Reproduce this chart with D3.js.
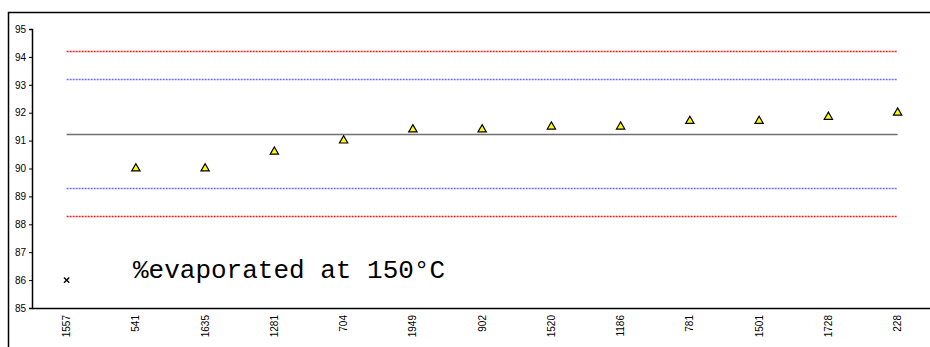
<!DOCTYPE html>
<html>
<head>
<meta charset="utf-8">
<script src="https://cdn.jsdelivr.net/npm/d3@7/dist/d3.min.js"></script>
<style>
  html, body { margin: 0; padding: 0; background: #fff; }
  svg { display: block; }
</style>
</head>
<body>
<svg id="chart" width="930" height="347"></svg>
<script>
// Sample identifiers along the x axis
const samples = ["1557", "541", "1635", "1281", "704", "1949", "902", "1520", "1186", "781", "1501", "1728", "228"];
// Measured % evaporated at 150 °C per sample
const evaporated = [86.0, 90.0, 90.0, 90.6, 91.0, 91.4, 91.4, 91.5, 91.5, 91.7, 91.7, 91.85, 92.0];
// Which samples fall outside the limits (drawn as a cross)
const outliers = ["1557"];
// Reference levels: mean, ±2s and ±3s limits
const meanLevel = 91.25;
const innerLimits = [89.3, 93.2];
const outerLimits = [88.3, 94.2];
const yTicks = [85, 86, 87, 88, 89, 90, 91, 92, 93, 94, 95];
const chartTitle = "%evaporated at 150\u00B0C";

const svg = d3.select("#chart");

// Outer chart frame (continues past the visible area)
svg.append("rect")
  .attr("x", 8.5).attr("y", 12.5)
  .attr("width", 1000).attr("height", 400)
  .attr("fill", "none").attr("stroke", "#000").attr("stroke-width", 1.5);

const x = d3.scaleBand().domain(samples).range([32, 32 + 13 * 69.25]).padding(0);
const y = d3.scaleLinear().domain([85, 95]).range([308, 29]);

const cx = d => x(d) + x.bandwidth() / 2;
const x0 = cx(samples[0]);
const x1 = cx(samples[samples.length - 1]);

// Reference lines
const refLines = [
  { v: outerLimits[1], color: "#ff1a1a", width: 1.3, dash: "2,1" },
  { v: innerLimits[1], color: "#6f6fff", width: 1.6, dash: "2,1" },
  { v: meanLevel, color: "#707070", width: 1.6, dash: null },
  { v: innerLimits[0], color: "#6f6fff", width: 1.6, dash: "2,1" },
  { v: outerLimits[0], color: "#ff1a1a", width: 1.3, dash: "2,1" }
];
svg.append("g").selectAll("line").data(refLines).join("line")
  .attr("x1", x0).attr("x2", x1)
  .attr("y1", d => Math.round(y(d.v)) + 0.5)
  .attr("y2", d => Math.round(y(d.v)) + 0.5)
  .attr("stroke", d => d.color)
  .attr("stroke-width", d => d.width)
  .attr("stroke-dasharray", d => d.dash);

// Y axis
const yAxis = svg.append("g")
  .attr("transform", "translate(32,0)")
  .call(d3.axisLeft(y).tickValues(yTicks).tickSize(3).tickPadding(3).tickFormat(d3.format("d")));
yAxis.select(".domain").attr("stroke", "#000").attr("stroke-width", 1.5);
yAxis.selectAll(".tick line").attr("stroke", "#000");
yAxis.selectAll("text").attr("font-family", "Liberation Sans, Arial, sans-serif")
  .attr("font-size", 10).attr("fill", "#000");

// X axis with rotated sample labels
const xAxis = svg.append("g")
  .attr("transform", "translate(0,308)")
  .call(d3.axisBottom(x).tickSize(0).tickPadding(0));
xAxis.select(".domain").attr("stroke", "#000").attr("stroke-width", 1.5);
xAxis.selectAll("text")
  .attr("font-family", "Liberation Sans, Arial, sans-serif")
  .attr("font-size", 10).attr("fill", "#000")
  .attr("text-anchor", "end")
  .attr("dy", null)
  .attr("transform", "translate(3.5,7) rotate(-90)");

// Data points
const pts = samples.map((s, i) => ({ s, v: evaporated[i] }));
const tri = d3.symbol().type(d3.symbolTriangle).size(30);
svg.append("g").selectAll("path")
  .data(pts.filter(d => !outliers.includes(d.s)))
  .join("path")
  .attr("d", tri)
  .attr("transform", d => `translate(${cx(d.s)},${y(d.v)})`)
  .attr("fill", "#ffff00").attr("stroke", "#000").attr("stroke-width", 1.2);

const cross = d3.symbol().type(d3.symbolX).size(20);
svg.append("g").selectAll("path")
  .data(pts.filter(d => outliers.includes(d.s)))
  .join("path")
  .attr("d", cross)
  .attr("transform", d => `translate(${cx(d.s)},${y(d.v)})`)
  .attr("fill", "none").attr("stroke", "#000").attr("stroke-width", 1.4);

// Chart caption
svg.append("text")
  .attr("x", 133).attr("y", 278)
  .attr("font-family", "Liberation Mono, Courier New, monospace")
  .attr("font-size", 26)
  .attr("fill", "#000")
  .text(chartTitle);
</script>
</body>
</html>
